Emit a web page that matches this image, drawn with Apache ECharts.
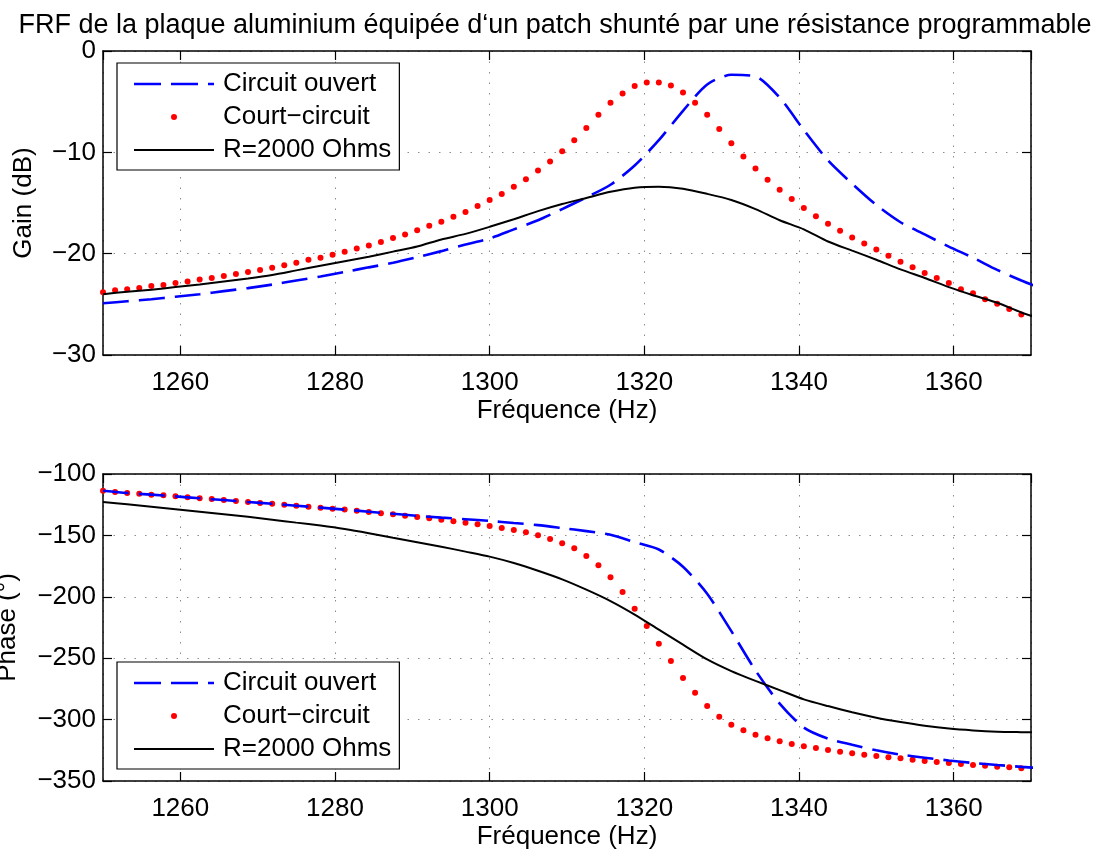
<!DOCTYPE html>
<html>
<head>
<meta charset="utf-8">
<title>FRF plaque aluminium</title>
<script src="https://cdn.jsdelivr.net/npm/echarts@6.0.0/dist/echarts.min.js"></script>
<style>
html, body { margin: 0; padding: 0; background: #fff; }
#chart { width: 1110px; height: 854px; }
</style>
</head>
<body>
<div id="chart"></div>
<script>
// fréquences des points (pas ~1.5625 Hz) pour la courbe en pointillés
const freqDots = [
  1250, 1251.5625, 1253.125, 1254.6875, 1256.25, 1257.8125, 1259.375, 1260.9375, 1262.5, 1264.0625,
  1265.625, 1267.1875, 1268.75, 1270.3125, 1271.875, 1273.4375, 1275, 1276.5625, 1278.125, 1279.6875,
  1281.25, 1282.8125, 1284.375, 1285.9375, 1287.5, 1289.0625, 1290.625, 1292.1875, 1293.75, 1295.3125,
  1296.875, 1298.4375, 1300, 1301.5625, 1303.125, 1304.6875, 1306.25, 1307.8125, 1309.375, 1310.9375,
  1312.5, 1314.0625, 1315.625, 1317.1875, 1318.75, 1320.3125, 1321.875, 1323.4375, 1325, 1326.5625,
  1328.125, 1329.6875, 1331.25, 1332.8125, 1334.375, 1335.9375, 1337.5, 1339.0625, 1340.625, 1342.1875,
  1343.75, 1345.3125, 1346.875, 1348.4375, 1350, 1351.5625, 1353.125, 1354.6875, 1356.25, 1357.8125,
  1359.375, 1360.9375, 1362.5, 1364.0625, 1365.625, 1367.1875, 1368.75
]
// fréquences pour les courbes continues
const freqLine = [
  1250, 1253.125, 1256.25, 1259.375, 1262.5, 1265.625, 1268.75, 1271.875, 1275, 1278.125,
  1281.25, 1284.375, 1287.5, 1290.625, 1293.75, 1296.875, 1300, 1303.125, 1306.25, 1309.375,
  1312.5, 1315.625, 1318.75, 1321.875, 1325, 1328.125, 1331.25, 1334.375, 1337.5, 1340.625,
  1343.75, 1346.875, 1350, 1353.125, 1356.25, 1359.375, 1362.5, 1365.625, 1368.75, 1371.875
]

// Gain (dB)
const gainOuvert = [
  -24.9, -24.7, -24.5, -24.25, -24.0, -23.7, -23.4, -23.05, -22.65, -22.25,
  -21.8, -21.35, -20.9, -20.35, -19.75, -19.1, -18.5, -17.6, -16.7, -15.6,
  -14.45, -13.2, -11.3, -8.8, -5.9, -3.3, -2.35, -2.5, -4.6, -7.8,
  -10.8, -13.1, -15.2, -16.9, -18.1, -19.3, -20.4, -21.6, -22.65, -23.6
]
const gainCourt = [
  -23.8, -23.6, -23.5, -23.4, -23.2, -23.1, -22.9, -22.75, -22.55, -22.4,
  -22.2, -22.0, -21.8, -21.6, -21.4, -21.15, -20.9, -20.6, -20.4, -20.1,
  -19.8, -19.5, -19.2, -18.85, -18.45, -18.1, -17.7, -17.25, -16.85, -16.36,
  -15.9, -15.3, -14.7, -14.1, -13.4, -12.65, -11.8, -10.9, -9.9, -8.8,
  -7.6, -6.3, -5.1, -4.2, -3.45, -3.1, -3.1, -3.4, -4.1, -5.1,
  -6.3, -7.7, -9.1, -10.4, -11.6, -12.7, -13.7, -14.6, -15.5, -16.3,
  -17.05, -17.75, -18.4, -19.0, -19.6, -20.2, -20.8, -21.35, -21.9, -22.4,
  -22.9, -23.5, -23.9, -24.5, -24.95, -25.45, -26.0
]
const gainR2000 = [
  -24.0, -23.75, -23.55, -23.3, -23.05, -22.75, -22.45, -22.1, -21.65, -21.2,
  -20.75, -20.3, -19.8, -19.3, -18.6, -18.05, -17.35, -16.6, -15.8, -15.1,
  -14.5, -13.9, -13.5, -13.4, -13.6, -14.1, -14.7, -15.6, -16.7, -17.6,
  -18.8, -19.7, -20.6, -21.55, -22.4, -23.3, -24.1, -24.85, -25.8, -26.6
]

// Phase (°)
const phaseOuvert = [
  -113.6, -115.5, -116.8, -118.2, -119.8, -121.2, -122.8, -124.2, -125.8, -127.4,
  -129.0, -130.7, -132.4, -134.0, -135.5, -136.8, -138.2, -139.9, -141.6, -144.0,
  -146.5, -149.5, -155.5, -161.5, -175.5, -197.5, -228, -260, -287, -306.5,
  -315.5, -320.5, -325, -328.5, -331, -333.3, -335.3, -337, -338.5, -339.8
]
const phaseCourt = [
  -113.6, -114.7, -115.5, -116.0, -116.8, -117.4, -118.2, -119.0, -119.8, -120.4,
  -121.2, -122.0, -122.8, -123.6, -124.2, -125.0, -125.8, -126.6, -127.4, -128.3,
  -129.0, -129.9, -130.9, -132.0, -132.8, -134.0, -135.0, -136.1, -137.2, -138.5,
  -139.7, -141.0, -142.3, -144.0, -145.6, -147.5, -149.9, -152.9, -156.4, -160.5,
  -166.8, -174.4, -184.1, -196.1, -209.7, -223.8, -238.2, -252.3, -266.1, -278.1,
  -288.9, -297.6, -304.2, -308.7, -312.3, -315.2, -317.7, -319.9, -321.7, -323.1,
  -324.8, -326.1, -327.4, -328.6, -329.6, -330.7, -331.5, -332.6, -333.7, -334.5,
  -335.3, -336.2, -337.0, -337.5, -338.4, -338.9, -339.7
]
const phaseR2000 = [
  -122.8, -124.7, -126.7, -128.7, -130.7, -132.8, -134.9, -137.2, -139.6, -142.0,
  -144.8, -148.2, -151.9, -155.5, -159.2, -163.2, -167.3, -172.5, -178.8, -185.8,
  -194.2, -203.5, -214.5, -226.8, -239, -251, -260.5, -268.5, -276, -283.5,
  -289, -294, -298.5, -302, -305, -307.3, -308.8, -309.8, -310.2, -310.5
]

const names = ['Circuit ouvert', 'Court\u2212circuit', 'R=2000 Ohms']

const font = 'Liberation Sans, Arial, Helvetica, sans-serif'
const fs = 26
const pairs = (xs, ys) => xs.map((x, i) => [x, ys[i]])
const minus = v => String(v).replace('-', '\u2212')

function svgIcon (body) {
  return 'image://data:image/svg+xml;charset=utf-8,' + encodeURIComponent(
    '<svg xmlns="http://www.w3.org/2000/svg" width="84" height="14">' + body + '</svg>')
}
const icons = [
  svgIcon('<line x1="0" y1="7" x2="80" y2="7" stroke="#0000ff" stroke-width="2.6" stroke-dasharray="27 10"/>'),
  svgIcon('<circle cx="40" cy="7" r="3" fill="#ff0000"/>'),
  svgIcon('<line x1="0" y1="7" x2="80" y2="7" stroke="#000000" stroke-width="2"/>')
]

const tickStyle = { inside: true, length: 9, lineStyle: { color: '#000', width: 1.2 } }
const boxLine = { onZero: false, lineStyle: { color: '#000', width: 1.5 } }
const gridDots = { show: true, lineStyle: { color: '#8c8c8c', width: 1, type: [1.5, 9] } }
const labelStyle = { color: '#000', fontSize: fs, fontFamily: font }

function xAxes (g) {
  return [{
    gridIndex: g, type: 'value', min: 1250, max: 1370, splitNumber: 6, position: 'bottom',
    name: 'Fréquence (Hz)', nameLocation: 'middle', nameGap: 43,
    nameTextStyle: labelStyle,
    axisLine: boxLine, axisTick: tickStyle,
    axisLabel: Object.assign({ showMinLabel: false, showMaxLabel: false, margin: 15, formatter: v => String(v) }, labelStyle),
    splitLine: gridDots
  }, {
    gridIndex: g, type: 'value', min: 1250, max: 1370, splitNumber: 6, position: 'top',
    axisLine: boxLine, axisTick: tickStyle, axisLabel: { show: false }, splitLine: { show: false }
  }]
}
function yAxes (g, min, max, interval, name, gap) {
  return [{
    gridIndex: g, type: 'value', min: min, max: max, interval: interval, position: 'left',
    name: name, nameLocation: 'middle', nameGap: gap, nameTextStyle: labelStyle,
    axisLine: boxLine, axisTick: tickStyle,
    axisLabel: Object.assign({ margin: 7, formatter: minus }, labelStyle),
    splitLine: gridDots
  }, {
    gridIndex: g, type: 'value', min: min, max: max, interval: interval, position: 'right',
    axisLine: boxLine, axisTick: tickStyle, axisLabel: { show: false }, splitLine: { show: false }
  }]
}

function legend (top) {
  return {
    orient: 'vertical', left: 117, top: top,
    padding: [8, 8, 7, 17], itemGap: 7, itemWidth: 84, itemHeight: 14,
    backgroundColor: '#fff', borderColor: '#000', borderWidth: 1.2,
    selectedMode: false,
    textStyle: { color: '#000', fontSize: fs, fontFamily: font, lineHeight: 26, padding: [0, 0, 0, 0] },
    data: names.map((n, i) => ({ name: n, icon: icons[i] }))
  }
}

function series (xi, yi, ouvert, court, r2000) {
  return [{
    name: names[0], type: 'line', xAxisIndex: xi, yAxisIndex: yi,
    data: pairs(freqLine, ouvert), symbol: 'none', smooth: 0.25,
    lineStyle: { color: '#0000ff', width: 2.6, type: [26, 10] }, itemStyle: { color: '#0000ff' }
  }, {
    name: names[1], type: 'scatter', xAxisIndex: xi, yAxisIndex: yi,
    data: pairs(freqDots, court), symbol: 'circle', symbolSize: 6,
    itemStyle: { color: '#ff0000', opacity: 1 }
  }, {
    name: names[2], type: 'line', xAxisIndex: xi, yAxisIndex: yi,
    data: pairs(freqLine, r2000), symbol: 'none', smooth: 0.25,
    lineStyle: { color: '#000', width: 2 }, itemStyle: { color: '#000' }
  }]
}

const chart = echarts.init(document.getElementById('chart'), null, { renderer: 'canvas' })
chart.setOption({
  animation: false,
  backgroundColor: '#fff',
  title: {
    text: 'FRF de la plaque aluminium équipée d\u2018un patch shunté par une résistance programmable',
    left: 'center', top: 7,
    textStyle: { color: '#000', fontSize: 27, fontWeight: 'normal', fontFamily: font }
  },
  legend: [legend(63), legend(662)],
  grid: [
    { left: 103, right: 79, top: 51, height: 304, outerBoundsMode: 'none', containLabel: false },
    { left: 103, right: 79, top: 474, height: 307, outerBoundsMode: 'none', containLabel: false }
  ],
  xAxis: xAxes(0).concat(xAxes(1)),
  yAxis: yAxes(0, -30, 0, 10, 'Gain (dB)', 66).concat(yAxes(1, -350, -100, 50, 'Phase (°)', 82)),
  series: series(0, 0, gainOuvert, gainCourt, gainR2000).concat(series(2, 2, phaseOuvert, phaseCourt, phaseR2000))
})
</script>
</body>
</html>
